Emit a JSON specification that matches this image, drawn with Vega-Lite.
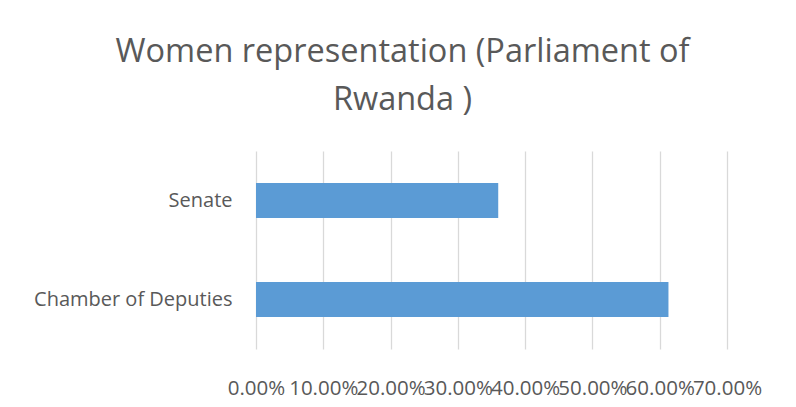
{
  "$schema": "https://vega.github.io/schema/vega-lite/v6.json",
  "autosize": {"type": "none"},
  "width": 471,
  "height": 198,
  "padding": {"left": 256, "top": 151, "right": 69, "bottom": 58},
  "background": "white",
  "title": {
    "text": ["Women representation (Parliament of", "Rwanda )"],
    "font": "Open Sans",
    "fontSize": 32.5,
    "fontWeight": "normal",
    "color": "#595959",
    "lineHeight": 48,
    "anchor": "middle",
    "frame": "group",
    "baseline": "bottom",
    "offset": 2,
    "dx": -89
  },
  "data": {
    "values": [
      {"chamber": "Senate", "share": 0.36},
      {"chamber": "Chamber of Deputies", "share": 0.613}
    ]
  },
  "mark": {"type": "bar", "color": "#5B9BD5"},
  "encoding": {
    "y": {
      "field": "chamber",
      "type": "nominal",
      "sort": ["Senate", "Chamber of Deputies"],
      "scale": {"paddingInner": 0.646, "paddingOuter": 0.323},
      "axis": {
        "title": null,
        "domain": false,
        "ticks": false,
        "tickSize": 0,
        "grid": false,
        "labelPadding": 24,
        "labelLimit": 400,
        "labelFont": "Open Sans",
        "labelFontSize": 20,
        "labelColor": "#595959"
      }
    },
    "x": {
      "field": "share",
      "type": "quantitative",
      "scale": {"domain": [0, 0.7], "nice": false},
      "axis": {
        "title": null,
        "values": [0, 0.1, 0.2, 0.3, 0.4, 0.5, 0.6, 0.7],
        "format": ".2%",
        "domain": false,
        "ticks": false,
        "tickSize": 0,
        "grid": true,
        "gridColor": "#D9D9D9",
        "gridWidth": 1.3,
        "labelPadding": 29,
        "labelFont": "Open Sans",
        "labelFontSize": 20.5,
        "labelColor": "#595959",
        "labelOverlap": false,
        "labelBound": false,
        "labelFlush": false
      }
    }
  },
  "config": {"view": {"stroke": null}}
}
